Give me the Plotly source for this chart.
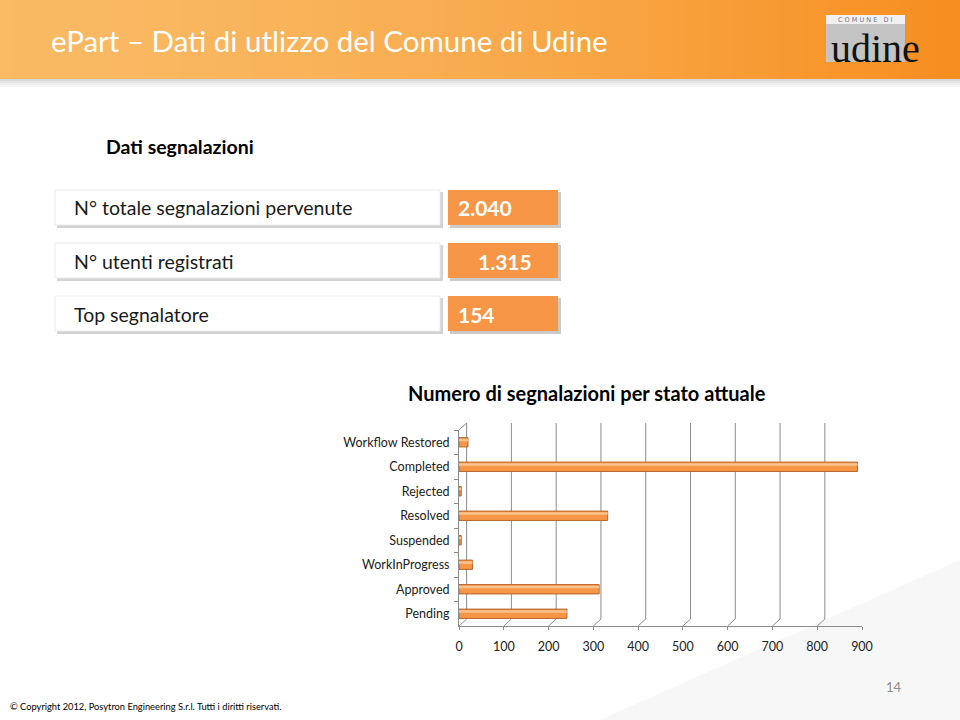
import plotly.graph_objects as go

# ---- data ----
categories = ["Workflow Restored", "Completed", "Rejected", "Resolved",
              "Suspended", "WorkInProgress", "Approved", "Pending"]
counts = [20, 890, 5, 332, 5, 30, 313, 241]
x_ticks = [0, 100, 200, 300, 400, 500, 600, 700, 800, 900]

kpi_labels = ["N° totale segnalazioni pervenute", "N° utenti registrati", "Top segnalatore"]
kpi_values = ["2.040", "1.315", "154"]

W, H = 960, 720
FONT = "Lato"
ORANGE = "#f79646"
GRID = "#8c8c8c"

Y_TOP, Y_BOT = 430, 626


def px(x):
    return x / W


def py(y):
    return 1 - y / H


shapes = []
annotations = []

# background subtle diagonal shading
shapes.append(dict(type="path", xref="paper", yref="paper",
                   path=f"M {px(600)},{py(720)} L {px(960)},{py(560)} L {px(960)},{py(720)} Z",
                   fillcolor="#f7f7f7", line=dict(width=0), layer="below"))

# header gradient strips
c0 = (250, 186, 100)
c1 = (247, 142, 32)
n = 80
for i in range(n):
    t = i / (n - 1)
    t2 = t ** 1.6
    col = tuple(int(c0[k] + (c1[k] - c0[k]) * t2) for k in range(3))
    shapes.append(dict(type="rect", xref="paper", yref="paper",
                       x0=px(i * W / n), x1=min(1.0, px((i + 1) * W / n + 0.6)),
                       y0=py(79), y1=py(0),
                       fillcolor=f"rgb{col}", line=dict(width=0), layer="below"))
# shade under header
for i, c in enumerate(["#d9d9d9", "#e6e6e6", "#efefef", "#f6f6f6"]):
    shapes.append(dict(type="rect", xref="paper", yref="paper",
                       x0=0, x1=1, y0=py(79 + 2 * (i + 1)), y1=py(79 + 2 * i),
                       fillcolor=c, line=dict(width=0), layer="below"))

annotations.append(dict(text="ePart – Dati di utlizzo del Comune di Udine",
                        x=px(49), y=py(40), xref="paper", yref="paper",
                        xanchor="left", yanchor="middle", showarrow=False,
                        font=dict(family=FONT, size=29.5, color="white")))

# logo
shapes.append(dict(type="rect", xref="paper", yref="paper",
                   x0=px(826), x1=px(905), y0=py(62), y1=py(15),
                   fillcolor="#c4c4c4", line=dict(width=0)))
shapes.append(dict(type="rect", xref="paper", yref="paper",
                   x0=px(826), x1=px(905), y0=py(24), y1=py(15),
                   fillcolor="#f0f0f0", line=dict(width=0)))
annotations.append(dict(text="C O M U N E   D I", x=px(865), y=py(19.5), xref="paper", yref="paper",
                        xanchor="center", yanchor="middle",
                        showarrow=False, font=dict(family="DejaVu Sans", size=6.5, color="#777")))
annotations.append(dict(text="udine", x=px(875), y=py(24), xref="paper", yref="paper",
                        xanchor="center", yanchor="top",
                        showarrow=False, font=dict(family="Liberation Serif", size=40, color="#111")))

# section title
annotations.append(dict(text="<b>Dati segnalazioni</b>", x=px(104), y=py(147),
                        xref="paper", yref="paper", xanchor="left", yanchor="middle",
                        showarrow=False, font=dict(family=FONT, size=19.5, color="#000")))

# KPI boxes
box_tops = [190, 243, 296]
for lab, val, top in zip(kpi_labels, kpi_values, box_tops):
    bot = top + 35
    shapes.append(dict(type="rect", xref="paper", yref="paper",
                       x0=px(57), x1=px(443), y0=py(bot + 3), y1=py(top + 2),
                       fillcolor="#d2d2d2", line=dict(width=0)))
    shapes.append(dict(type="rect", xref="paper", yref="paper",
                       x0=px(55), x1=px(440), y0=py(bot), y1=py(top),
                       fillcolor="white", line=dict(width=1, color="#ebebeb")))
    shapes.append(dict(type="rect", xref="paper", yref="paper",
                       x0=px(450), x1=px(561), y0=py(bot + 3), y1=py(top + 2),
                       fillcolor="#cbcbcb", line=dict(width=0)))
    shapes.append(dict(type="rect", xref="paper", yref="paper",
                       x0=px(448), x1=px(558), y0=py(bot), y1=py(top),
                       fillcolor=ORANGE, line=dict(width=0)))
    annotations.append(dict(text=lab, x=px(72), y=py(top + 18), xref="paper", yref="paper",
                            xanchor="left", yanchor="middle", showarrow=False,
                            font=dict(family=FONT, size=19.5, color="#1a1a1a")))
    annotations.append(dict(text=f"<b>{val}</b>", x=px(456 if val != "1.315" else 476),
                            y=py(top + 18), xref="paper", yref="paper",
                            xanchor="left", yanchor="middle", showarrow=False,
                            font=dict(family=FONT, size=21, color="white")))

# chart title
annotations.append(dict(text="<b>Numero di segnalazioni per stato attuale</b>",
                        x=px(587), y=py(393), xref="paper", yref="paper",
                        xanchor="center", yanchor="middle", showarrow=False,
                        font=dict(family=FONT, size=20, color="#000")))

# pseudo-3D grid: slanted floor segments + back-wall verticals
DX = 17  # depth offset in data units
DY = 7 / H  # depth offset in paper units
for v in x_ticks:
    shapes.append(dict(type="line", xref="x", yref="paper",
                       x0=v, x1=v + DX, y0=py(Y_BOT), y1=py(Y_BOT) + DY,
                       line=dict(color=GRID, width=1), layer="below"))
    shapes.append(dict(type="line", xref="x", yref="paper",
                       x0=v + DX, x1=v + DX, y0=py(Y_BOT) + DY, y1=py(Y_TOP) + DY,
                       line=dict(color=GRID, width=1), layer="below"))
shapes.append(dict(type="line", xref="x", yref="paper",
                   x0=0, x1=DX, y0=py(Y_TOP), y1=py(Y_TOP) + DY,
                   line=dict(color=GRID, width=1), layer="below"))

# footer
annotations.append(dict(text="© Copyright 2012, Posytron Engineering S.r.l. Tutti i diritti riservati.",
                        x=px(8), y=py(706), xref="paper", yref="paper",
                        xanchor="left", yanchor="middle", showarrow=False,
                        font=dict(family=FONT, size=9.3, color="#000")))
annotations.append(dict(text="14", x=px(894), y=py(687), xref="paper", yref="paper",
                        xanchor="center", yanchor="middle", showarrow=False,
                        font=dict(family=FONT, size=13, color="#8c8c8c")))

fig = go.Figure()
fig.add_trace(go.Bar(y=categories, x=counts, orientation="h",
                     marker=dict(color=ORANGE, line=dict(color="#b5652a", width=1)),
                     width=0.38, hoverinfo="x+y"))
fig.add_trace(go.Bar(y=categories, x=counts, orientation="h",
                     marker=dict(color="#fbc28f", line=dict(width=0)),
                     width=0.1, offset=-0.14, hoverinfo="skip"))

fig.update_layout(
    width=W, height=H, margin=dict(l=0, r=0, t=0, b=0, autoexpand=False),
    paper_bgcolor="white", plot_bgcolor="rgba(0,0,0,0)",
    showlegend=False, barmode="overlay",
    shapes=shapes, annotations=annotations,
    xaxis=dict(domain=[px(459), px(862)], range=[0, 900], tickvals=x_ticks,
               automargin=False,
               showgrid=False, showline=True, linecolor=GRID, zeroline=False,
               ticks="outside", ticklen=3, tickcolor=GRID, ticklabelstandoff=6,
               tickfont=dict(family=FONT, size=12.5, color="#222")),
    yaxis=dict(domain=[py(Y_BOT), py(Y_TOP)], categoryorder="array",
               categoryarray=categories, autorange="reversed", automargin=False,
               showline=True, linecolor=GRID, ticks="outside", ticklen=4,
               tickson="boundaries",
               tickcolor=GRID, showgrid=False, ticklabelstandoff=6,
               tickfont=dict(family=FONT, size=12.5, color="#222")),
)

fig.write_html("out.html")
